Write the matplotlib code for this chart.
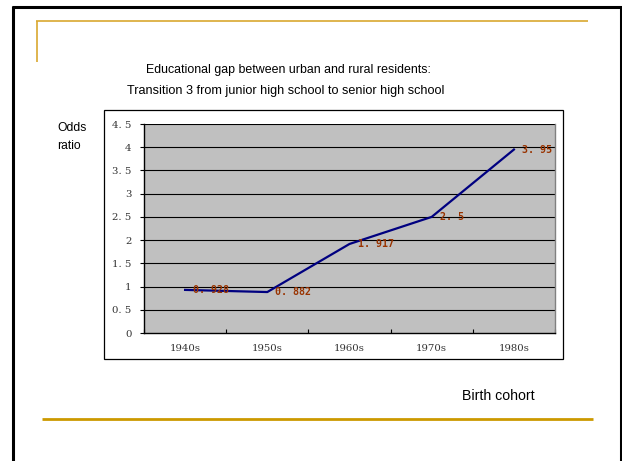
import matplotlib
matplotlib.use("Agg")
import matplotlib.pyplot as plt
from matplotlib.lines import Line2D
from matplotlib.patches import Rectangle

W, H = 622, 461

cohorts = ["1940s", "1950s", "1960s", "1970s", "1980s"]
odds = [0.928, 0.882, 1.917, 2.5, 3.95]
point_labels = ["0. 928", "0. 882", "1. 917", "2. 5", "3. 95"]
y_ticks = [0, 0.5, 1, 1.5, 2, 2.5, 3, 3.5, 4, 4.5]
y_tick_labels = ["0", "0. 5", "1", "1. 5", "2", "2. 5", "3", "3. 5", "4", "4. 5"]

title_1 = "Educational gap between urban and rural residents:"
title_2 = "Transition 3 from junior high school to senior high school"

fig = plt.figure(figsize=(W / 100, H / 100), dpi=100)
fig.patch.set_facecolor("white")


def fx(px):
    return px / W


def fy(py):
    return 1 - py / H


def hline(x0, x1, y, color, lw):
    fig.add_artist(Line2D([fx(x0), fx(x1)], [fy(y), fy(y)], color=color, lw=lw,
                          transform=fig.transFigure, solid_capstyle="butt"))


def vline(x, y0, y1, color, lw):
    fig.add_artist(Line2D([fx(x), fx(x)], [fy(y0), fy(y1)], color=color, lw=lw,
                          transform=fig.transFigure, solid_capstyle="butt"))


# slide frame and gold rules
hline(12, 622, 7, "black", 2.2)
vline(13, 6, 461, "black", 2.2)
vline(620.5, 6, 461, "black", 2.2)
hline(36, 588, 21.5, "#D9A830", 1.2)
vline(36.5, 21, 62, "#D9A830", 1.2)
hline(42, 593, 418.5, "#CC9900", 2.0)

# chart frame
fig.add_artist(Rectangle((fx(104), fy(359)), fx(563) - fx(104), fy(110) - fy(359),
                         transform=fig.transFigure, facecolor="white",
                         edgecolor="black", lw=0.9, zorder=0))

sans = "Liberation Sans"
fig.text(fx(288), fy(70), title_1, ha="center", va="center", fontsize=8.9, family=sans)
fig.text(fx(286), fy(91), title_2, ha="center", va="center", fontsize=9.1, family=sans)
fig.text(fx(57), fy(128), "Odds", ha="left", va="center", fontsize=8.7, family=sans)
fig.text(fx(57), fy(146), "ratio", ha="left", va="center", fontsize=8.7, family=sans)
fig.text(fx(462), fy(396), "Birth cohort", ha="left", va="center", fontsize=10.2, family=sans)

ax = fig.add_axes([fx(144), fy(333), fx(555) - fx(144), fy(124) - fy(333)])
ax.set_facecolor("#C0C0C0")
x = list(range(len(cohorts)))
ax.plot(x, odds, color="#000080", lw=1.6, zorder=3)
for xi, yi, lab in zip(x, odds, point_labels):
    ax.annotate(lab, (xi, yi), xytext=(8, 0), textcoords="offset pixels",
                va="center", ha="left", fontsize=7.2, fontweight="bold",
                color="#993300", family="DejaVu Sans Mono", zorder=4)

ax.set_xlim(-0.5, 4.5)
ax.set_ylim(0, 4.5)
for gy in y_ticks[1:]:
    ax.axhline(gy, color="black", lw=0.8, zorder=1)

tick_font = dict(family="DejaVu Serif", fontsize=7.3, color="#333333")
ax.set_yticks(y_ticks)
ax.set_yticklabels(y_tick_labels, **tick_font)
ax.set_xticks([i + 0.5 for i in range(-1, 5)])
ax.set_xticklabels([])
ax.set_xticks(x, minor=True)
ax.set_xticklabels(cohorts, minor=True, **tick_font)
ax.tick_params(axis="y", direction="out", length=3, width=0.8, pad=6)
ax.tick_params(axis="x", which="major", direction="in", length=3, width=0.8)
ax.tick_params(axis="x", which="minor", length=0, pad=8)

ax.spines["left"].set_color("black")
ax.spines["bottom"].set_color("black")
ax.spines["left"].set_linewidth(1.0)
ax.spines["bottom"].set_linewidth(1.0)
ax.spines["top"].set_visible(False)
ax.spines["right"].set_color("#808080")
ax.spines["right"].set_linewidth(1.0)

fig.savefig("out.png", dpi=100)
